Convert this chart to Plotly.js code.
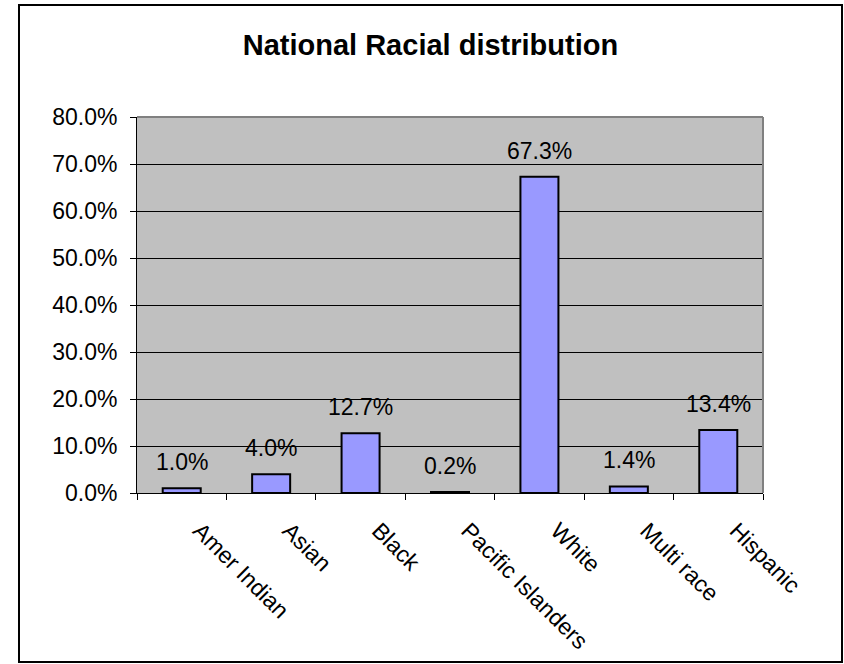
<!DOCTYPE html>
<html>
<head>
<meta charset="utf-8">
<script src="https://cdn.plot.ly/plotly-3.0.1.min.js"></script>
<style>
  html, body { margin: 0; padding: 0; background: #ffffff; }
  #chart { width: 844px; height: 664px; }
</style>
</head>
<body>
<div id="chart"></div>
<script>
const categories = ["Amer Indian", "Asian", "Black", "Pacific Islanders", "White", "Multi race", "Hispanic"];
const shares = [0.010, 0.040, 0.127, 0.002, 0.673, 0.014, 0.134];
const shareLabels = ["1.0%", "4.0%", "12.7%", "0.2%", "67.3%", "1.4%", "13.4%"];
const chartTitle = "National Racial distribution";

const FONT = "Liberation Sans, Arial, sans-serif";

const trace = {
  type: "bar",
  x: categories,
  y: shares,
  marker: { color: "#9999FF", line: { color: "#000000", width: 2 } },
  hoverinfo: "skip"
};

const annotations = categories.map((c, i) => ({
  x: c, y: shares[i], xref: "x", yref: "y",
  text: shareLabels[i], showarrow: false,
  yanchor: "bottom", xanchor: "center", yshift: 11,
  font: { family: FONT, size: 23, color: "#000000" }
}));

const layout = {
  width: 844, height: 664,
  margin: { l: 137, r: 81, t: 117, b: 171 },
  paper_bgcolor: "#ffffff",
  plot_bgcolor: "#C0C0C0",
  showlegend: false,
  bargap: 0.575,
  title: {
    text: "<b>" + chartTitle + "</b>",
    x: 0.51, xanchor: "center", xref: "container",
    y: 0.932, yanchor: "middle", yref: "container",
    font: { family: FONT, size: 29, color: "#000000" }
  },
  xaxis: {
    type: "category",
    showline: true, linecolor: "#000000", linewidth: 1,
    ticks: "outside", tickson: "boundaries", ticklen: 6, tickcolor: "#000000", tickwidth: 1,
    tickangle: 45,
    ticklabelshift: 18, ticklabelstandoff: 14,
    tickfont: { family: FONT, size: 23, color: "#000000" },
    showgrid: false, zeroline: false, fixedrange: true
  },
  yaxis: {
    range: [0, 0.8], dtick: 0.1, tick0: 0, tickformat: ".1%",
    showline: true, linecolor: "#000000", linewidth: 1,
    ticks: "outside", ticklen: 6, tickcolor: "#000000", tickwidth: 1,
    ticklabelstandoff: 8,
    tickfont: { family: FONT, size: 23, color: "#000000" },
    showgrid: true, gridcolor: "#000000", gridwidth: 1,
    zeroline: false, fixedrange: true
  },
  shapes: [
    { type: "line", xref: "paper", yref: "paper", x0: 0, x1: 1, y0: 1, y1: 1,
      line: { color: "#808080", width: 2 } },
    { type: "line", xref: "paper", yref: "paper", x0: 1, x1: 1, y0: 0, y1: 1,
      line: { color: "#808080", width: 2 } },
    { type: "rect", xref: "paper", yref: "paper",
      x0: -0.1885, x1: 1.1262, y0: -0.4495, y1: 1.2979,
      line: { color: "#000000", width: 2 }, fillcolor: "rgba(0,0,0,0)" }
  ],
  annotations: annotations
};

Plotly.newPlot("chart", [trace], layout, { displayModeBar: false, staticPlot: true });
</script>
</body>
</html>
